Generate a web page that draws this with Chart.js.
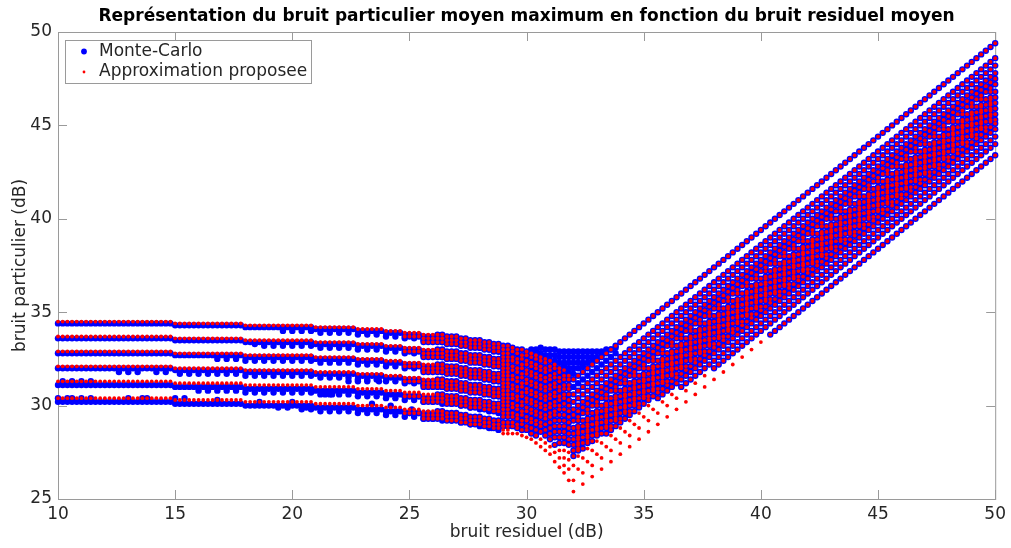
<!DOCTYPE html>
<html>
<head>
<meta charset="utf-8">
<title>Bruit particulier</title>
<script src="https://cdn.jsdelivr.net/npm/chart.js@4"></script>
<style>
  body { margin: 0; background: #fff; }
  canvas { display: block; }
</style>
</head>
<body>
<canvas id="myChart" width="1011" height="548"></canvas>
<script>
// x columns of the flat left part (dB)
const flatX = [10,10.2,10.4,10.6,10.8,11,11.2,11.4,11.6,11.8,12,12.2,12.4,12.6,12.8,13,13.2,13.4,13.6,13.8,14,14.2,14.4,14.6,14.8,
  15,15.2,15.4,15.6,15.8,16,16.2,16.4,16.6,16.8,17,17.2,17.4,17.6,17.8,
  18,18.2,18.4,18.6,18.8,19,19.2,19.4,19.6,19.8,20,20.2,20.4,20.6,20.8,
  21,21.2,21.4,21.6,21.8,22,22.2,22.4,22.6,22.8,23,23.2,23.4,23.6,23.8,24,24.2,24.4,24.6,24.8,25,25.2,25.4,25.6,25.8,26];

// approximation, flat part, one row per level
const approxRow1 = [34.5,34.5,34.5,34.5,34.5,34.5,34.5,34.5,34.5,34.5,34.5,34.5,34.5,34.5,34.5,34.5,34.5,34.5,34.5,34.5,34.5,34.5,34.5,34.5,34.5,
  34.4,34.4,34.4,34.4,34.4,34.4,34.4,34.4,34.4,34.4,34.4,34.4,34.4,34.4,34.4,
  34.3,34.3,34.3,34.3,34.3,34.3,34.3,34.3,34.3,34.3,34.3,34.3,34.3,34.3,34.3,
  34.2,34.2,34.2,34.2,34.2,34.2,34.2,34.2,34.2,34.1,34.1,34.1,34.1,34.1,34.1,34,34,34,34,33.9,33.9,33.9,33.9,33.8,33.8,33.8];
const approxRow2 = [33.7,33.7,33.7,33.7,33.7,33.7,33.7,33.7,33.7,33.7,33.7,33.7,33.7,33.7,33.7,33.7,33.7,33.7,33.7,33.7,33.7,33.7,33.7,33.7,33.7,
  33.6,33.6,33.6,33.6,33.6,33.6,33.6,33.6,33.6,33.6,33.6,33.6,33.6,33.6,33.6,
  33.5,33.5,33.5,33.5,33.5,33.5,33.5,33.5,33.5,33.5,33.5,33.5,33.5,33.5,33.5,
  33.4,33.4,33.4,33.4,33.4,33.4,33.4,33.4,33.4,33.3,33.3,33.3,33.3,33.3,33.3,33.2,33.2,33.2,33.2,33.1,33.1,33.1,33.1,33,33,33];
const approxRow3 = [32.9,32.9,32.9,32.9,32.9,32.9,32.9,32.9,32.9,32.9,32.9,32.9,32.9,32.9,32.9,32.9,32.9,32.9,32.9,32.9,32.9,32.9,32.9,32.9,32.9,
  32.8,32.8,32.8,32.8,32.8,32.8,32.8,32.8,32.8,32.8,32.8,32.8,32.8,32.8,32.8,
  32.7,32.7,32.7,32.7,32.7,32.7,32.7,32.7,32.7,32.7,32.7,32.7,32.7,32.7,32.7,
  32.6,32.6,32.6,32.6,32.6,32.6,32.6,32.6,32.6,32.5,32.5,32.5,32.5,32.5,32.5,32.4,32.4,32.4,32.4,32.3,32.3,32.3,32.3,32.2,32.2,32.2];
const approxRow4 = [32.1,32.1,32.1,32.1,32.1,32.1,32.1,32.1,32.1,32.1,32.1,32.1,32.1,32.1,32.1,32.1,32.1,32.1,32.1,32.1,32.1,32.1,32.1,32.1,32.1,
  32,32,32,32,32,32,32,32,32,32,32,32,32,32,32,
  31.9,31.9,31.9,31.9,31.9,31.9,31.9,31.9,31.9,31.9,31.9,31.9,31.9,31.9,31.9,
  31.8,31.8,31.8,31.8,31.8,31.8,31.8,31.8,31.8,31.7,31.7,31.7,31.7,31.7,31.7,31.6,31.6,31.6,31.6,31.5,31.5,31.5,31.5,31.4,31.4,31.4];
const approxRow5 = [31.3,31.3,31.3,31.3,31.3,31.3,31.3,31.3,31.3,31.3,31.3,31.3,31.3,31.3,31.3,31.3,31.3,31.3,31.3,31.3,31.3,31.3,31.3,31.3,31.3,
  31.2,31.2,31.2,31.2,31.2,31.2,31.2,31.2,31.2,31.2,31.2,31.2,31.2,31.2,31.2,
  31.1,31.1,31.1,31.1,31.1,31.1,31.1,31.1,31.1,31.1,31.1,31.1,31.1,31.1,31.1,
  31,31,31,31,31,31,31,31,31,30.9,30.9,30.9,30.9,30.9,30.9,30.8,30.8,30.8,30.8,30.7,30.7,30.7,30.7,30.6,30.6,30.6];
const approxRow6 = [30.4,30.4,30.4,30.4,30.4,30.4,30.4,30.4,30.4,30.4,30.4,30.4,30.4,30.4,30.4,30.4,30.4,30.4,30.4,30.4,30.4,30.4,30.4,30.4,30.4,
  30.3,30.3,30.3,30.3,30.3,30.3,30.3,30.3,30.3,30.3,30.3,30.3,30.3,30.3,30.3,
  30.2,30.2,30.2,30.2,30.2,30.2,30.2,30.2,30.2,30.2,30.2,30.2,30.2,30.2,30.2,
  30.1,30.1,30.1,30.1,30.1,30.1,30.1,30.1,30.1,30,30,30,30,30,30,29.9,29.9,29.9,29.9,29.8,29.8,29.8,29.8,29.7,29.7,29.7];

// monte-carlo, flat part
const mcRow1 = [34.4,34.4,34.4,34.4,34.4,34.4,34.4,34.4,34.4,34.4,34.4,34.4,34.4,34.4,34.4,34.4,34.4,34.4,34.4,34.4,34.4,34.4,34.4,34.4,34.4,
  34.3,34.3,34.3,34.3,34.3,34.3,34.3,34.3,34.3,34.3,34.3,34.3,34.3,34.3,34.3,
  34.2,34.2,34.2,34.2,34.2,34.2,34.2,34.2,34.2,34.2,34.2,34.2,34.2,34.2,34.2,
  34.1,34.1,34.1,34.1,34.1,34.1,34.1,34.1,34.1,34,34,34,34,34,34,33.9,33.9,33.9,33.9,33.8,33.8,33.8,33.8,33.7,33.7,33.7];
const mcRow2 = [33.6,33.6,33.6,33.6,33.6,33.6,33.6,33.6,33.6,33.6,33.6,33.6,33.6,33.6,33.6,33.6,33.6,33.6,33.6,33.6,33.6,33.6,33.6,33.6,33.6,
  33.5,33.5,33.5,33.5,33.5,33.5,33.5,33.5,33.5,33.5,33.5,33.5,33.5,33.5,33.5,
  33.4,33.4,33.4,33.4,33.4,33.4,33.4,33.4,33.4,33.4,33.4,33.4,33.4,33.4,33.4,
  33.3,33.3,33.3,33.3,33.3,33.3,33.3,33.3,33.3,33.2,33.2,33.2,33.2,33.2,33.2,33.1,33.1,33.1,33.1,33,33,33,33,32.9,32.9,32.9];
const mcRow3 = [32.8,32.8,32.8,32.8,32.8,32.8,32.8,32.8,32.8,32.8,32.8,32.8,32.8,32.8,32.8,32.8,32.8,32.8,32.8,32.8,32.8,32.8,32.8,32.8,32.8,
  32.7,32.7,32.7,32.7,32.7,32.7,32.7,32.7,32.7,32.7,32.7,32.7,32.7,32.7,32.7,
  32.6,32.6,32.6,32.6,32.6,32.6,32.6,32.6,32.6,32.6,32.6,32.6,32.6,32.6,32.6,
  32.5,32.5,32.5,32.5,32.5,32.5,32.5,32.5,32.5,32.4,32.4,32.4,32.4,32.4,32.4,32.3,32.3,32.3,32.3,32.2,32.2,32.2,32.2,32.1,32.1,32.1];
const mcRow4 = [32,32,32,32,32,32,32,32,32,32,32,32,32,32,32,32,32,32,32,32,32,32,32,32,32,
  31.9,31.9,31.9,31.9,31.9,31.9,31.9,31.9,31.9,31.9,31.9,31.9,31.9,31.9,31.9,
  31.8,31.8,31.8,31.8,31.8,31.8,31.8,31.8,31.8,31.8,31.8,31.8,31.8,31.8,31.8,
  31.7,31.7,31.7,31.7,31.7,31.7,31.7,31.7,31.7,31.6,31.6,31.6,31.6,31.6,31.6,31.5,31.5,31.5,31.5,31.4,31.4,31.4,31.4,31.3,31.3,31.3];
const mcRow5 = [31.1,31.1,31.1,31.1,31.1,31.1,31.1,31.1,31.1,31.1,31.1,31.1,31.1,31.1,31.1,31.1,31.1,31.1,31.1,31.1,31.1,31.1,31.1,31.1,31.1,
  31,31,31,31,31,31,31,31,31,31,31,31,31,31,31,
  30.9,30.9,30.9,30.9,30.9,30.9,30.9,30.9,30.9,30.9,30.9,30.9,30.9,30.9,30.9,
  30.8,30.8,30.8,30.8,30.8,30.8,30.8,30.8,30.8,30.7,30.7,30.7,30.7,30.7,30.7,30.6,30.6,30.6,30.6,30.5,30.5,30.5,30.5,30.4,30.4,30.4];
const mcRow6 = [30.2,30.2,30.2,30.2,30.2,30.2,30.2,30.2,30.2,30.2,30.2,30.2,30.2,30.2,30.2,30.2,30.2,30.2,30.2,30.2,30.2,30.2,30.2,30.2,30.2,
  30.1,30.1,30.1,30.1,30.1,30.1,30.1,30.1,30.1,30.1,30.1,30.1,30.1,30.1,30.1,
  30,30,30,30,30,30,30,30,30,30,30,30,30,30,30,
  29.9,29.9,29.9,29.9,29.9,29.9,29.9,29.9,29.9,29.8,29.8,29.8,29.8,29.8,29.8,29.7,29.7,29.7,29.7,29.6,29.6,29.6,29.6,29.5,29.5,29.5];

// monte-carlo, lower edge of the thick bands. rows are aligned on the end of lowerX
const lowerX = [15.2,15.6,16,16.4,16.8,17.2,17.6,18,18.4,18.8,19.2,19.6,20,20.4,20.8,21.2,21.6,22,22.4,22.8,23.2,23.6,24,24.4,24.8,25.2,25.6,26,26.4,26.8,27.2,27.6,28,28.4,28.8];
const mcLower1 = [34,34,34,34,33.9,33.9,33.9,33.9,33.8,33.8,33.8,33.7,33.7,33.6,33.6,33.5,33.5,33.4,33.4,33.3,33.2,33.1,33,32.9];
const mcLower2 = [33.2,33.2,33.2,33.2,33.2,33.2,33.1,33.1,33.1,33.1,33,33,33,32.9,32.9,32.8,32.8,32.7,32.7,32.6,32.6,32.5,32.4,32.3,32.2,32.1];
const mcLower3 = [32.5,32.5,32.5,32.4,32.4,32.4,32.4,32.4,32.4,32.4,32.4,32.3,32.3,32.3,32.3,32.2,32.2,32.2,32.1,32.1,32,32,31.9,31.9,31.8,31.8,31.7,31.6,31.5,31.4,31.3];
const mcLower4 = [31.7,31.7,31.7,31.7,31.7,31.7,31.7,31.6,31.6,31.6,31.6,31.6,31.6,31.6,31.6,31.5,31.5,31.5,31.5,31.4,31.4,31.4,31.3,31.3,31.2,31.2,31.1,31.1,31,31,30.9,30.8,30.7,30.6,30.5];
const mcLower5 = [30.8,30.8,30.8,30.8,30.8,30.7,30.7,30.7,30.7,30.7,30.7,30.7,30.7,30.6,30.6,30.6,30.6,30.5,30.5,30.5,30.4,30.4,30.3,30.3,30.2,30.2,30.1,30.1,30,29.9,29.8,29.7,29.6];
const mcLower6 = [29.8,29.8,29.7,29.7,29.7,29.7,29.6,29.6,29.6,29.5,29.5,29.4,29.4,29.3,29.3,29.2,29.2,29.1,29,28.9,28.8,28.7];

// scattered monte-carlo points off the rows
const mcBumpX = [12.6,13,13.4,14.2,14.6,18.4,19.4,19.8,20.6,10,10.4,10.6,11,11.4,13,13.6,13.8,15,15.4,16.8,18.6,20,10.2,10.6,11,11.4,22.4,22.8,23.2,23.7,21.4,21.7,28.1,28.5,23.4,24.2,25.1,25.8,26.6];
const mcBumpY = [31.8,31.8,31.8,31.8,31.8,33.3,29.9,29.9,29.9,30.4,30.4,30.4,30.4,30.4,30.4,30.4,30.4,30.4,30.4,30.3,30.2,30.2,31.3,31.3,31.3,31.3,31.3,31.3,31.3,31.3,30.6,30.6,29,28.8,30.1,30,29.8,29.6,29.5];

// centre of the V, above the arms
const mcBlobX = [30.2,30.4,30.4,30.6,30.6,30.8,30.8,31,31,31.2,31.2,31.2,31.4,31.4,31.4,31.6,31.6,31.6,31.6,31.8,31.8,31.8,31.8,31.8,32,32,32,32,32,32.2,32.2,32.2,32.2,32.4,32.4,32.4,32.4,32.6,32.6,32.6,32.8,32.8,32.8,33,33,33.2,33.2,33.4,33.6,33.8,
  32,32.2,32.4,32.6,32.8,33,33.2,33.4,33.6,33.8];
const mcBlobY = [33,33,32.9,33.1,32.8,33,32.7,33,32.7,33,32.7,32.4,32.9,32.6,32.3,32.9,32.6,32.3,32.1,32.9,32.6,32.3,32,31.8,32.9,32.6,32.3,32,31.7,32.9,32.6,32.3,32,32.9,32.6,32.3,32.1,32.9,32.6,32.3,32.9,32.6,32.4,32.9,32.6,32.9,32.7,33,33,33.1,
  31,31.2,31.4,31.6,31.8,32,32.2,32.4,32.6,32.8];

// fan columns left of the V
const fanX = [24.8,25,25.2,25.4,25.6,25.8,26,26.2,26.4,26.6,26.8,27,27.2,27.4,27.6,27.8,28,28.2,28.4,28.6,28.8,29,29.2,29.4,29.6,29.8,30,30.2,30.4,30.6,30.8,31,31.2,31.4,31.6,31.8];
const fanY = [33.7,32.9,32.1,31.3,30.5,29.6];
const fanZ = [33.6,33.4,32.8,32.6,32,31.8,31.2,31,30.4,30.2,29.5,29.3];
const fanA = [33.8,33.6,33.4,33,32.8,32.6,32.2,32,31.8,31.4,31.2,31,30.6,30.4,30.2,29.7,29.5,29.3];
const fanB = [33.7,33.5,33.3,32.9,32.7,32.5,32.1,31.9,31.7,31.3,31.1,30.9,30.5,30.3,30.1,29.6,29.4,29.2];
const fanC = [33.6,33.4,33.2,32.8,32.6,32.4,32,31.8,31.6,31.2,31,30.8,30.4,30.2,30,29.5,29.3,29.1];
const fanD = [33.5,33.3,33.1,32.7,32.5,32.3,31.9,31.7,31.5,31.1,30.9,30.7,30.3,30.1,29.9,29.4,29.2,29];
const fanF = [33.4,33.2,33,32.6,32.4,32.2,31.8,31.6,31.4,31,30.8,30.6,30.2,30,29.8,29.3,29.1,28.9];
const fanG = [33.3,33.1,32.9,32.5,32.3,32.1,31.7,31.5,31.3,30.9,30.7,30.5,30.1,29.9,29.7,29.2,29,28.8];
const fanH = [33.2,33,32.8,32.6,32.4,32.2,32,31.8,31.6,31.4,31.2,31,30.8,30.6,30.4,30.2,30,29.8,29.6,29.4,29.1,28.9,28.7,28.5];
const fanColumns = [fanY,fanY,fanY,fanY,fanZ,fanZ,fanZ,fanA,fanA,fanB,fanB,fanB,fanC,fanC,fanD,fanD,fanD,fanF,fanF,fanG,fanG,fanH,fanH,
  [33.1,32.9,32.6,32.4,32.1,31.9,31.6,31.4,31.1,30.9,30.6,30.4,30.1,29.9,29.6,29.4,29.1,28.9,28.5],
  [33,32.8,32.5,32.3,32,31.8,31.5,31.3,31,30.8,30.5,30.3,30,29.8,29.5,29.3,29,28.8,28.5],
  [33,32.7,32.5,32.2,32,31.7,31.5,31.2,31,30.7,30.5,30.2,30,29.7,29.5,29.2,29,28.7,28.4],
  [32.9,32.7,32.4,32.2,31.9,31.7,31.4,31.2,30.9,30.7,30.4,30.2,29.9,29.7,29.4,29.2,28.9,28.7,28.3],
  [32.8,32.6,32.3,32.1,31.8,31.6,31.3,31.1,30.8,30.6,30.3,30.1,29.8,29.6,29.3,29.1,28.8,28.5,28.2],
  [32.7,32.5,32.2,32,31.7,31.5,31.2,31,30.7,30.5,30.2,30,29.7,29.5,29.2,29,28.7,28.4,28],
  [32.6,32.4,32.1,31.9,31.6,31.4,31.1,30.9,30.6,30.4,30.1,29.9,29.6,29.4,29.1,28.9,28.6,28.2,27.8],
  [32.5,32.3,32,31.8,31.5,31.3,31,30.8,30.5,30.3,30,29.8,29.5,29.3,29,28.7,28.4,28,27.6],
  [32.4,32.1,31.9,31.6,31.4,31.1,30.9,30.6,30.4,30.1,29.9,29.6,29.4,29.1,28.8,28.5,28.2,27.8,27.4],
  [32.2,32,31.7,31.5,31.2,31,30.7,30.5,30.2,30,29.7,29.5,29.2,28.9,28.6,28.3,27.9,27.5,27],
  [32,31.8,31.5,31.3,31,30.8,30.5,30.3,30,29.8,29.5,29.2,28.9,28.6,28.3,28,27.6,27.2,26.7],
  [31.9,31.6,31.4,31.1,30.9,30.6,30.4,30.1,29.8,29.5,29.2,28.9,28.6,28.3,28,27.6,27.2,26.8,26.4],
  [31.6,31.4,31.1,30.9,30.6,30.3,30,29.7,29.4,29.1,28.8,28.5,28.2,27.9,27.5,27.1,26.6,26]];
// monte-carlo stops here in each fan column, the red goes lower
const mcFanFloor = [0,0,0,0,0,0,0,0,0,0,0,0,0,0,0,0,0,0,0,0,0,28.8,28.8,28.7,28.7,28.6,28.6,28.5,28.4,28.3,28.2,28,27.9,27.8,27.7,27.6];

// rising lines right of the V, two x phases, rows aligned on the end of the x list
const riseXA = [32,32.4,32.8,33.2,33.6,34,34.4,34.8,35.2,35.6,36,36.4,36.8,37.2,37.6,38,38.4,38.8,39.2,39.6,40,40.4,40.8,41.2,41.6,42,42.4,42.8,43.2,43.6,44,44.4,44.8,45.2,45.6,46,46.4,46.8,47.2,47.6,48,48.4,48.8,49.2,49.6,50];
const riseXB = [32.2,32.6,33,33.4,33.8,34.2,34.6,35,35.4,35.8,36.2,36.6,37,37.4,37.8,38.2,38.6,39,39.4,39.8,40.2,40.6,41,41.4,41.8,42.2,42.6,43,43.4,43.8,44.2,44.6,45,45.4,45.8,46.2,46.6,47,47.4,47.8,48.2,48.6,49,49.4,49.8];
const riseA = [
  [31.4,31.8,32.2,32.6,33,33.4,33.8,34.2,34.6,35,35.4,35.8,36.2,36.6,37,37.4,37.8,38.2,38.6,39,39.4,39.8,40.2,40.6,41,41.4,41.8,42.2,42.6,43,43.4,43.8,44.2,44.6,45,45.4,45.8,46.2,46.6,47,47.4,47.8,48.2,48.6,49,49.4],
  [30.6,31,31.4,31.8,32.2,32.6,33,33.4,33.8,34.2,34.6,35,35.4,35.8,36.2,36.6,37,37.4,37.8,38.2,38.6,39,39.4,39.8,40.2,40.6,41,41.4,41.8,42.2,42.6,43,43.4,43.8,44.2,44.6,45,45.4,45.8,46.2,46.6,47,47.4,47.8,48.2,48.6],
  [29.8,30.2,30.6,31,31.4,31.8,32.2,32.6,33,33.4,33.8,34.2,34.6,35,35.4,35.8,36.2,36.6,37,37.4,37.8,38.2,38.6,39,39.4,39.8,40.2,40.6,41,41.4,41.8,42.2,42.6,43,43.4,43.8,44.2,44.6,45,45.4,45.8,46.2,46.6,47,47.4,47.8],
  [29.2,29.6,30,30.4,30.8,31.2,31.6,32,32.4,32.8,33.2,33.6,34,34.4,34.8,35.2,35.6,36,36.4,36.8,37.2,37.6,38,38.4,38.8,39.2,39.6,40,40.4,40.8,41.2,41.6,42,42.4,42.8,43.2,43.6,44,44.4,44.8,45.2,45.6,46,46.4,46.8,47.2],
  [28.8,29.2,29.6,30,30.4,30.8,31.2,31.6,32,32.4,32.8,33.2,33.6,34,34.4,34.8,35.2,35.6,36,36.4,36.8,37.2,37.6,38,38.4,38.8,39.2,39.6,40,40.4,40.8,41.2,41.6,42,42.4,42.8,43.2,43.6,44,44.4,44.8,45.2,45.6,46,46.4,46.8],
  [28.5,28.9,29.3,29.7,30.1,30.5,30.9,31.3,31.7,32.1,32.5,32.9,33.3,33.7,34.1,34.5,34.9,35.3,35.7,36.1,36.5,36.9,37.3,37.7,38.1,38.5,38.9,39.3,39.7,40.1,40.5,40.9,41.3,41.7,42.1,42.5,42.9,43.3,43.7,44.1,44.5,44.9,45.3,45.7,46.1,46.5],
  [28.2,28.6,29,29.4,29.8,30.2,30.6,31,31.4,31.8,32.2,32.6,33,33.4,33.8,34.2,34.6,35,35.4,35.8,36.2,36.6,37,37.4,37.8,38.2,38.6,39,39.4,39.8,40.2,40.6,41,41.4,41.8,42.2,42.6,43,43.4,43.8,44.2,44.6,45,45.4,45.8,46.2],
  [27.9,28.3,28.7,29.1,29.5,29.9,30.3,30.7,31.1,31.5,31.9,32.3,32.7,33.1,33.5,33.9,34.3,34.7,35.1,35.5,35.9,36.3,36.7,37.1,37.5,37.9,38.3,38.7,39.1,39.5,39.9,40.3,40.7,41.1,41.5,41.9,42.3,42.7,43.1,43.5,43.9,44.3,44.7,45.1,45.5,45.9],
  [27.6,28,28.4,28.8,29.2,29.6,30,30.4,30.8,31.2,31.6,32,32.4,32.8,33.2,33.6,34,34.4,34.8,35.2,35.6,36,36.4,36.8,37.2,37.6,38,38.4,38.8,39.2,39.6,40,40.4,40.8,41.2,41.6,42,42.4,42.8,43.2,43.6,44,44.4,44.8,45.2,45.6],
  [27.3,27.7,28.1,28.5,28.9,29.3,29.7,30.1,30.5,30.9,31.3,31.7,32.1,32.5,32.9,33.3,33.7,34.1,34.5,34.9,35.3,35.7,36.1,36.5,36.9,37.3,37.7,38.1,38.5,38.9,39.3,39.7,40.1,40.5,40.9,41.3,41.7,42.1,42.5,42.9,43.3,43.7,44.1,44.5,44.9,45.3],
  [26.8,27.2,27.6,28,28.4,28.8,29.2,29.6,30,30.4,30.8,31.2,31.6,32,32.4,32.8,33.2,33.6,34,34.4,34.8,35.2,35.6,36,36.4,36.8,37.2,37.6,38,38.4,38.8,39.2,39.6,40,40.4,40.8,41.2,41.6,42,42.4,42.8,43.2,43.6,44,44.4,44.8],
  [26,26.4,26.8,27.2,27.6,28,28.4,28.8,29.2,29.6,30,30.4,30.8,31.2,31.6,32,32.4,32.8,33.2,33.6,34,34.4,34.8,35.2,35.6,36,36.4,36.8,37.2,37.6,38,38.4,38.8,39.2,39.6,40,40.4,40.8,41.2,41.6,42,42.4,42.8,43.2,43.6,44],
  [25.4,25.8,26.2,26.6,27,27.4,27.8,28.2,28.6,29,29.4,29.8,30.2,30.6,31,31.4,31.8,32.2,32.6,33,33.4,33.8,34.2,34.6,35,35.4,35.8,36.2,36.6,37,37.4,37.8,38.2,38.6,39,39.4,39.8,40.2,40.6,41,41.4,41.8,42.2,42.6,43,43.4]];
const riseB = [
  [30.4,30.8,31.2,31.6,32,32.4,32.8,33.2,33.6,34,34.4,34.8,35.2,35.6,36,36.4,36.8,37.2,37.6,38,38.4,38.8,39.2,39.6,40,40.4,40.8,41.2,41.6,42,42.4,42.8,43.2,43.6,44,44.4,44.8,45.2,45.6,46,46.4,46.8,47.2,47.6,48],
  [29.7,30.1,30.5,30.9,31.3,31.7,32.1,32.5,32.9,33.3,33.7,34.1,34.5,34.9,35.3,35.7,36.1,36.5,36.9,37.3,37.7,38.1,38.5,38.9,39.3,39.7,40.1,40.5,40.9,41.3,41.7,42.1,42.5,42.9,43.3,43.7,44.1,44.5,44.9,45.3,45.7,46.1,46.5,46.9,47.3],
  [29.2,29.6,30,30.4,30.8,31.2,31.6,32,32.4,32.8,33.2,33.6,34,34.4,34.8,35.2,35.6,36,36.4,36.8,37.2,37.6,38,38.4,38.8,39.2,39.6,40,40.4,40.8,41.2,41.6,42,42.4,42.8,43.2,43.6,44,44.4,44.8,45.2,45.6,46,46.4,46.8],
  [28.9,29.3,29.7,30.1,30.5,30.9,31.3,31.7,32.1,32.5,32.9,33.3,33.7,34.1,34.5,34.9,35.3,35.7,36.1,36.5,36.9,37.3,37.7,38.1,38.5,38.9,39.3,39.7,40.1,40.5,40.9,41.3,41.7,42.1,42.5,42.9,43.3,43.7,44.1,44.5,44.9,45.3,45.7,46.1,46.5],
  [28.6,29,29.4,29.8,30.2,30.6,31,31.4,31.8,32.2,32.6,33,33.4,33.8,34.2,34.6,35,35.4,35.8,36.2,36.6,37,37.4,37.8,38.2,38.6,39,39.4,39.8,40.2,40.6,41,41.4,41.8,42.2,42.6,43,43.4,43.8,44.2,44.6,45,45.4,45.8,46.2],
  [28.3,28.7,29.1,29.5,29.9,30.3,30.7,31.1,31.5,31.9,32.3,32.7,33.1,33.5,33.9,34.3,34.7,35.1,35.5,35.9,36.3,36.7,37.1,37.5,37.9,38.3,38.7,39.1,39.5,39.9,40.3,40.7,41.1,41.5,41.9,42.3,42.7,43.1,43.5,43.9,44.3,44.7,45.1,45.5,45.9],
  [28,28.4,28.8,29.2,29.6,30,30.4,30.8,31.2,31.6,32,32.4,32.8,33.2,33.6,34,34.4,34.8,35.2,35.6,36,36.4,36.8,37.2,37.6,38,38.4,38.8,39.2,39.6,40,40.4,40.8,41.2,41.6,42,42.4,42.8,43.2,43.6,44,44.4,44.8,45.2,45.6],
  [27.7,28.1,28.5,28.9,29.3,29.7,30.1,30.5,30.9,31.3,31.7,32.1,32.5,32.9,33.3,33.7,34.1,34.5,34.9,35.3,35.7,36.1,36.5,36.9,37.3,37.7,38.1,38.5,38.9,39.3,39.7,40.1,40.5,40.9,41.3,41.7,42.1,42.5,42.9,43.3,43.7,44.1,44.5,44.9,45.3],
  [27.3,27.7,28.1,28.5,28.9,29.3,29.7,30.1,30.5,30.9,31.3,31.7,32.1,32.5,32.9,33.3,33.7,34.1,34.5,34.9,35.3,35.7,36.1,36.5,36.9,37.3,37.7,38.1,38.5,38.9,39.3,39.7,40.1,40.5,40.9,41.3,41.7,42.1,42.5,42.9,43.3,43.7,44.1,44.5,44.9],
  [26.6,27,27.4,27.8,28.2,28.6,29,29.4,29.8,30.2,30.6,31,31.4,31.8,32.2,32.6,33,33.4,33.8,34.2,34.6,35,35.4,35.8,36.2,36.6,37,37.4,37.8,38.2,38.6,39,39.4,39.8,40.2,40.6,41,41.4,41.8,42.2,42.6,43,43.4,43.8,44.2]];
// where the monte-carlo points start on each rising line
const mcRiseFromA = [32,32,32,32,32,32,32,32,32,32,35.6,38,40.4];
const mcRiseFromB = [32.2,32.2,32.2,32.2,32.2,32.2,32.2,32.2,33.4,36.6];

// the other phase of the outer lines, where both methods have points
const extraOnXB = [
  [31.6,32,32.4,32.8,33.2,33.6,34,34.4,34.8,35.2,35.6,36,36.4,36.8,37.2,37.6,38,38.4,38.8,39.2,39.6,40,40.4,40.8,41.2,41.6,42,42.4,42.8,43.2,43.6,44,44.4,44.8,45.2,45.6,46,46.4,46.8,47.2,47.6,48,48.4,48.8,49.2],
  [30.8,31.2,31.6,32,32.4,32.8,33.2,33.6,34,34.4,34.8,35.2,35.6,36,36.4,36.8,37.2,37.6,38,38.4,38.8,39.2,39.6,40,40.4,40.8,41.2,41.6,42,42.4,42.8,43.2,43.6,44,44.4,44.8,45.2,45.6,46,46.4,46.8,47.2,47.6,48,48.4],
  [30,30.4,30.8,31.2,31.6,32,32.4,32.8,33.2,33.6,34,34.4,34.8,35.2,35.6,36,36.4,36.8,37.2,37.6,38,38.4,38.8,39.2,39.6,40,40.4,40.8,41.2,41.6,42,42.4,42.8,43.2,43.6,44,44.4,44.8,45.2,45.6,46,46.4,46.8,47.2,47.6],
  [29.4,29.8,30.2,30.6,31,31.4,31.8,32.2,32.6,33,33.4,33.8,34.2,34.6,35,35.4,35.8,36.2,36.6,37,37.4,37.8,38.2,38.6,39,39.4,39.8,40.2,40.6,41,41.4,41.8,42.2,42.6,43,43.4,43.8,44.2,44.6,45,45.4,45.8,46.2,46.6,47],
  [30.6,31,31.4,31.8,32.2,32.6,33,33.4,33.8,34.2,34.6,35,35.4,35.8,36.2,36.6,37,37.4,37.8,38.2,38.6,39,39.4,39.8,40.2,40.6,41,41.4,41.8,42.2,42.6,43,43.4,43.8,44.2,44.6],
  [32.2,32.6,33,33.4,33.8,34.2,34.6,35,35.4,35.8,36.2,36.6,37,37.4,37.8,38.2,38.6,39,39.4,39.8,40.2,40.6,41,41.4,41.8,42.2,42.6,43,43.4,43.8],
  [34,34.4,34.8,35.2,35.6,36,36.4,36.8,37.2,37.6,38,38.4,38.8,39.2,39.6,40,40.4,40.8,41.2,41.6,42,42.4,42.8,43.2]];
const extraOnXA = [
  [30.2,30.6,31,31.4,31.8,32.2,32.6,33,33.4,33.8,34.2,34.6,35,35.4,35.8,36.2,36.6,37,37.4,37.8,38.2,38.6,39,39.4,39.8,40.2,40.6,41,41.4,41.8,42.2,42.6,43,43.4,43.8,44.2,44.6,45,45.4,45.8,46.2,46.6,47,47.4,47.8,48.2],
  [29.5,29.9,30.3,30.7,31.1,31.5,31.9,32.3,32.7,33.1,33.5,33.9,34.3,34.7,35.1,35.5,35.9,36.3,36.7,37.1,37.5,37.9,38.3,38.7,39.1,39.5,39.9,40.3,40.7,41.1,41.5,41.9,42.3,42.7,43.1,43.5,43.9,44.3,44.7,45.1,45.5,45.9,46.3,46.7,47.1,47.5],
  [28.7,29.1,29.5,29.9,30.3,30.7,31.1,31.5,31.9,32.3,32.7,33.1,33.5,33.9,34.3,34.7,35.1,35.5,35.9,36.3,36.7,37.1,37.5,37.9,38.3,38.7,39.1,39.5,39.9,40.3,40.7,41.1,41.5,41.9,42.3,42.7,43.1,43.5,43.9,44.3,44.7,45.1],
  [31.2,31.6,32,32.4,32.8,33.2,33.6,34,34.4,34.8,35.2,35.6,36,36.4,36.8,37.2,37.6,38,38.4,38.8,39.2,39.6,40,40.4,40.8,41.2,41.6,42,42.4,42.8,43.2,43.6,44,44.4]];

const xTicks = [10, 15, 20, 25, 30, 35, 40, 45, 50];
const yTicks = [25, 30, 35, 40, 45, 50];

const blue = "#0000ff";
const red = "#ff0000";
const axisGray = "#9a9a9a";
const textColor = "#262626";
const fontName = "'DejaVu Sans'";
const legendDots = [2.9, 1.4];

function addRow(points, xs, ys) {
  const shownX = xs.slice(-ys.length);
  ys.forEach((y, i) => points.push({ x: shownX[i], y: y }));
}

// dense middle of the band: the rows with x shifted on the other phase
function addMiddleRows(points) {
  riseA.slice(4, 9).forEach((row) => addRow(points, riseXB, row.slice(0, 45)));
}

// red points
const approxPoints = [];
[approxRow1, approxRow2, approxRow3, approxRow4, approxRow5, approxRow6].forEach((row) => {
  addRow(approxPoints, flatX, row);
});
fanColumns.forEach((column, i) => {
  column.forEach((y) => approxPoints.push({ x: fanX[i], y: y }));
});
riseA.forEach((row) => addRow(approxPoints, riseXA, row));
riseB.forEach((row) => addRow(approxPoints, riseXB, row));
extraOnXB.forEach((row) => addRow(approxPoints, riseXB, row));
extraOnXA.forEach((row) => addRow(approxPoints, riseXA, row));
addMiddleRows(approxPoints);

// blue points
const mcPoints = [];
[mcRow1, mcRow2, mcRow3, mcRow4, mcRow5, mcRow6].forEach((row) => {
  addRow(mcPoints, flatX, row);
});
[mcLower1, mcLower2, mcLower3, mcLower4, mcLower5, mcLower6].forEach((row) => {
  addRow(mcPoints, lowerX, row);
});
mcBumpX.forEach((x, i) => mcPoints.push({ x: x, y: mcBumpY[i] }));
mcBlobX.forEach((x, i) => mcPoints.push({ x: x, y: mcBlobY[i] }));
fanColumns.forEach((column, i) => {
  column.forEach((y) => {
    if (y >= mcFanFloor[i]) mcPoints.push({ x: fanX[i], y: y });
  });
});
riseA.forEach((row, r) => {
  row.forEach((y, i) => {
    if (riseXA[i] >= mcRiseFromA[r]) mcPoints.push({ x: riseXA[i], y: y });
  });
});
riseB.forEach((row, r) => {
  row.forEach((y, i) => {
    if (riseXB[i] >= mcRiseFromB[r]) mcPoints.push({ x: riseXB[i], y: y });
  });
});
extraOnXB.forEach((row) => addRow(mcPoints, riseXB, row));
extraOnXA.forEach((row) => addRow(mcPoints, riseXA, row));
addMiddleRows(mcPoints);

// matlab style box with the ticks pointing inwards, under the points
const axesBox = {
  id: "axesBox",
  beforeDatasetsDraw(chart) {
    const { ctx, chartArea: area, scales } = chart;
    const tickLen = 9;
    ctx.save();
    ctx.strokeStyle = axisGray;
    ctx.lineWidth = 1;
    ctx.strokeRect(area.left + 0.5, area.top + 0.5, area.right - area.left, area.bottom - area.top);
    ctx.beginPath();
    xTicks.forEach((tick) => {
      const px = Math.round(scales.x.getPixelForValue(tick)) + 0.5;
      ctx.moveTo(px, area.bottom);
      ctx.lineTo(px, area.bottom - tickLen);
      ctx.moveTo(px, area.top);
      ctx.lineTo(px, area.top + tickLen);
    });
    yTicks.forEach((tick) => {
      const py = Math.round(scales.y.getPixelForValue(tick)) + 0.5;
      ctx.moveTo(area.left, py);
      ctx.lineTo(area.left + tickLen, py);
      ctx.moveTo(area.right, py);
      ctx.lineTo(area.right - tickLen, py);
    });
    ctx.stroke();
    ctx.restore();
  },
};

// legend sits inside the axes with a frame and different dot sizes
const legendBox = {
  id: "legendBox",
  afterDatasetsDraw(chart) {
    const { ctx } = chart;
    const sets = chart.data.datasets;
    ctx.save();
    ctx.fillStyle = "#fff";
    ctx.strokeStyle = axisGray;
    ctx.lineWidth = 1;
    ctx.fillRect(65.5, 40.5, 246, 43);
    ctx.strokeRect(65.5, 40.5, 246, 43);
    ctx.font = "17px " + fontName;
    ctx.textBaseline = "middle";
    sets.forEach((set, i) => {
      const rowY = 51.5 + i * 20.5;
      ctx.fillStyle = set.backgroundColor;
      ctx.beginPath();
      ctx.arc(84, rowY, legendDots[i], 0, Math.PI * 2);
      ctx.fill();
      ctx.fillStyle = textColor;
      ctx.fillText(set.label, 99, rowY);
    });
    ctx.restore();
  },
};

const config = {
  type: "scatter",
  data: {
    datasets: [
      {
        label: "Monte-Carlo",
        data: mcPoints,
        backgroundColor: blue,
        borderWidth: 0,
        pointRadius: 3.2,
        order: 2,
        clip: false,
      },
      {
        label: "Approximation proposee",
        data: approxPoints,
        backgroundColor: red,
        borderWidth: 0,
        pointRadius: 1.9,
        order: 1,
        clip: false,
      },
    ],
  },
  options: {
    responsive: false,
    animation: false,
    layout: { padding: { right: 15 } },
    plugins: {
      legend: { display: false },
      tooltip: { enabled: false },
      title: {
        display: true,
        text: "Représentation du bruit particulier moyen maximum en fonction du bruit residuel moyen",
        color: "#000",
        font: { family: fontName, size: 17, weight: "bold" },
        padding: { top: 6, bottom: 5.6 },
        fullSize: false,
      },
    },
    scales: {
      x: {
        type: "linear",
        min: 10,
        max: 50,
        afterFit(scale) { scale.height = 49; },
        afterBuildTicks(scale) { scale.ticks = xTicks.map((v) => ({ value: v })); },
        grid: { display: false, drawTicks: false },
        border: { display: false },
        ticks: { color: textColor, padding: 5, maxRotation: 0, font: { family: fontName, size: 17 } },
        title: { display: true, text: "bruit residuel (dB)", color: textColor, padding: { top: 0, bottom: 5 }, font: { family: fontName, size: 17 } },
      },
      y: {
        type: "linear",
        min: 25,
        max: 50,
        afterFit(scale) { scale.width = 58; },
        afterBuildTicks(scale) { scale.ticks = yTicks.map((v) => ({ value: v })); },
        grid: { display: false, drawTicks: false },
        border: { display: false },
        ticks: { color: textColor, padding: 6, font: { family: fontName, size: 17 } },
        title: { display: true, text: "bruit particulier (dB)", color: textColor, padding: { top: 10, bottom: 0 }, font: { family: fontName, size: 17 } },
      },
    },
  },
  plugins: [axesBox, legendBox],
};

const myChart = new Chart(document.getElementById("myChart"), config);
</script>
</body>
</html>
